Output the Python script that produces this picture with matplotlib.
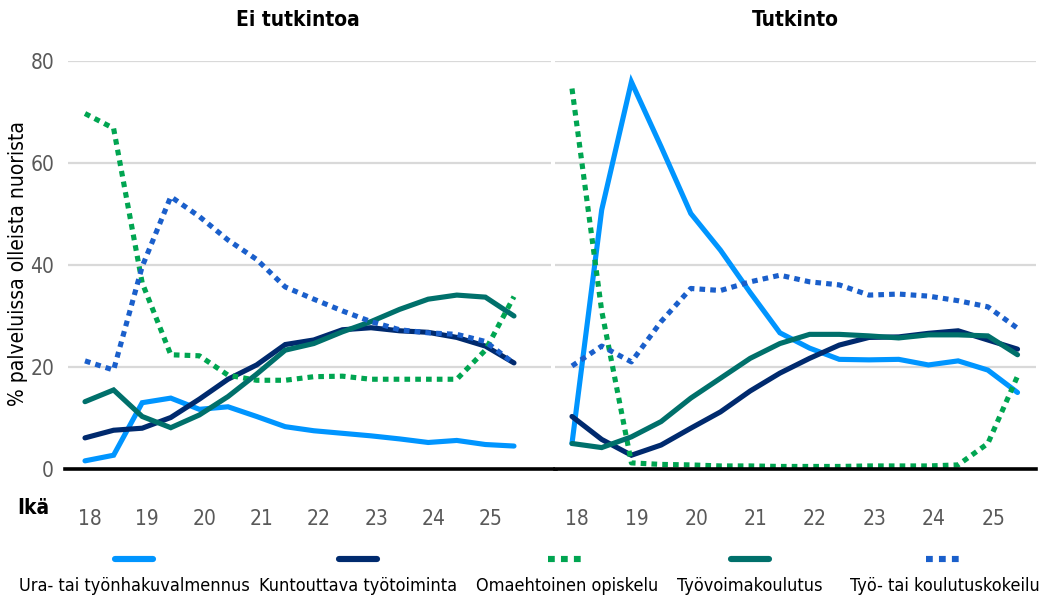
import matplotlib
matplotlib.use('Agg')
import matplotlib.pyplot as plt
from matplotlib.lines import Line2D

plt.rcParams['font.family'] = ['DejaVu Sans']
plt.rcParams['font.stretch'] = 'condensed'

ages = [18.0, 18.5, 19.0, 19.5, 20.0, 20.5, 21.0, 21.5,
        22.0, 22.5, 23.0, 23.5, 24.0, 24.5, 25.0, 25.5]
age_ticks = [18, 19, 20, 21, 22, 23, 24, 25]
y_ticks = [0, 20, 40, 60, 80]
panel_titles = ['Ei tutkintoa', 'Tutkinto']
series_names = ['Ura- tai työnhakuvalmennus', 'Kuntouttava työtoiminta',
                'Omaehtoinen opiskelu', 'Työvoimakoulutus',
                'Työ- tai koulutuskokeilu']

# Ei tutkintoa
ura_ei = [1.6, 2.7, 13.0, 13.9, 11.7, 12.2, 10.3, 8.3, 7.5, 7.0, 6.5, 5.9, 5.2, 5.6, 4.8, 4.5]
kunt_ei = [6.1, 7.6, 8.0, 10.1, 13.7, 17.6, 20.4, 24.4, 25.3, 27.3, 27.7, 27.1, 26.8, 25.8, 24.1, 20.8]
oma_ei = [69.7, 66.8, 36.5, 22.4, 22.2, 18.4, 17.4, 17.4, 18.1, 18.2, 17.6, 17.6, 17.6, 17.6, 23.3, 33.8]
tyov_ei = [13.2, 15.5, 10.3, 8.1, 10.6, 14.2, 18.6, 23.3, 24.6, 26.9, 28.9, 31.3, 33.3, 34.1, 33.7, 30.0]
kok_ei = [21.2, 19.4, 39.7, 53.4, 49.5, 44.9, 41.1, 35.7, 33.3, 31.0, 28.9, 27.3, 26.7, 26.4, 25.0, 20.7]

# Tutkinto
ura_t = [5.0, 50.8, 75.9, 63.2, 50.1, 42.9, 34.6, 26.7, 23.7, 21.5, 21.4, 21.5, 20.4, 21.2, 19.4, 15.0]
kunt_t = [10.3, 5.8, 2.7, 4.7, 8.0, 11.2, 15.3, 18.8, 21.7, 24.3, 25.8, 25.9, 26.6, 27.1, 25.3, 23.5]
oma_t = [74.6, 31.0, 1.2, 0.9, 0.8, 0.6, 0.6, 0.5, 0.5, 0.5, 0.6, 0.6, 0.6, 0.8, 5.0, 18.2]
tyov_t = [5.0, 4.2, 6.3, 9.3, 13.9, 17.8, 21.7, 24.6, 26.4, 26.4, 26.1, 25.7, 26.3, 26.3, 26.1, 22.4]
kok_t = [20.2, 24.1, 21.0, 28.9, 35.4, 35.0, 36.7, 38.0, 36.7, 36.1, 34.1, 34.3, 33.9, 33.0, 31.8, 27.6]

colors = ['#0095ff', '#002a6e', '#00a551', '#00706b', '#1a5fcb']
styles = ['-', '-', (0, (1.1, 1.0)), '-', (0, (1.1, 1.0))]
LW = 3.7

W, H = 1042, 603
fig = plt.figure(figsize=(W / 100, H / 100), dpi=100)


def px_axes(x0, x1, y0=61, y1=469):
    return fig.add_axes([x0 / W, 1 - y1 / H, (x1 - x0) / W, (y1 - y0) / H])


ax1 = px_axes(68, 551)
ax2 = px_axes(555, 1036)
ax1.set_xlim(17.703, 26.147)
ax2.set_xlim(17.714, 25.811)

panels = [
    (ax1, [ura_ei, kunt_ei, oma_ei, tyov_ei, kok_ei]),
    (ax2, [ura_t, kunt_t, oma_t, tyov_t, kok_t]),
]

for ax, data in panels:
    ax.set_ylim(0, 80)
    for y in y_ticks[1:]:
        ax.axhline(y, color='#d9d9d9', lw=1.6, zorder=1)
    for vals, c, ls in zip(data, colors, styles):
        ax.plot(ages, vals, color=c, lw=LW, linestyle=ls,
                solid_capstyle='round', dash_capstyle='butt',
                solid_joinstyle='miter', zorder=3)
    for s in ax.spines.values():
        s.set_visible(False)
    ax.set_xticks([a + 0.09 for a in age_ticks])
    ax.set_xticklabels([str(a) for a in age_ticks])
    ax.tick_params(axis='x', length=0, pad=29, labelsize=15, labelcolor='#595959')
    ax.tick_params(axis='y', length=0, pad=10, labelsize=15, labelcolor='#595959')
    ax.set_yticks(y_ticks)

ax2.set_yticklabels([])

# zero line across both panels
ax1.axhline(0, xmin=-0.006, xmax=1.01, color='black', lw=2.6, clip_on=False, zorder=4)
ax2.axhline(0, color='black', lw=2.6, clip_on=False, zorder=4)

fig.text(298 / W, 1 - 20 / H, panel_titles[0], ha='center', va='center',
         fontsize=15, fontweight='bold')
fig.text(795 / W, 1 - 20 / H, panel_titles[1], ha='center', va='center',
         fontsize=15, fontweight='bold')
fig.text(18 / W, 1 - 263 / H, '% palveluissa olleista nuorista', rotation=90,
         ha='center', va='center', fontsize=15)
fig.text(33 / W, 1 - 508 / H, 'Ikä', ha='center', va='center',
         fontsize=15, fontweight='bold')

# legend: sample line above each label
leg_x = [134, 358, 567, 750, 945]
for name, c, ls, x in zip(series_names, colors, styles, leg_x):
    fig.add_artist(Line2D([(x - 19) / W, (x + 19) / W], [1 - 559 / H, 1 - 559 / H],
                          color=c, lw=LW * 1.2, linestyle=ls,
                          solid_capstyle='round', dash_capstyle='butt'))
    fig.text(x / W, 1 - 586 / H, name, ha='center', va='center', fontsize=13)

fig.savefig('out.png', dpi=100)
